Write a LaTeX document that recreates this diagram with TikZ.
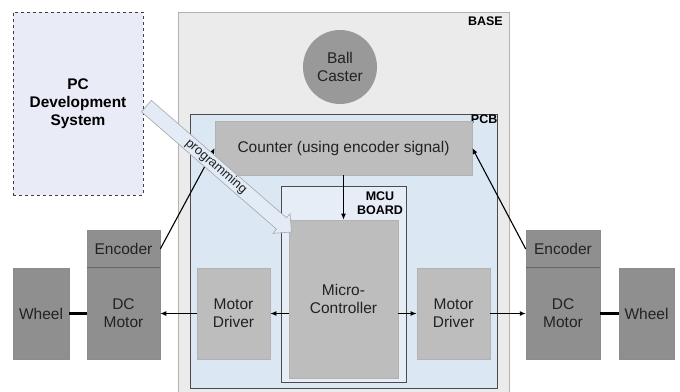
\documentclass[tikz,border=0pt]{standalone}
\usepackage{fontspec}
\setmainfont{Liberation Sans}
\usetikzlibrary{positioning,shapes.arrows,arrows.meta}
\definecolor{basegray}{HTML}{EBEBEB}
\definecolor{pcbblue}{HTML}{DCE7F4}
\definecolor{boardblue}{HTML}{E7EDF7}
\definecolor{pcblue}{HTML}{E9ECF6}
\definecolor{partgray}{HTML}{BDBDBD}
\definecolor{motorgray}{HTML}{8F8F8F}
\definecolor{textgray}{HTML}{222222}
\tikzset{every node/.style={font=\fontsize{15.5}{18}\selectfont, text=textgray, inner sep=0pt, align=center},
  block/.style={draw=black!30, fill=partgray, line width=0.6pt},
  motorbox/.style={draw=black!45, fill=motorgray, line width=0.5pt},
  frame/.style={draw=black!70, line width=0.8pt},
  tag/.style={font=\fontsize{12.5}{14}\selectfont\bfseries, text=black},
  wire/.style={black, line width=1.1pt, -{Latex[length=6pt,width=5pt]}},
  axle/.style={black, line width=2.4pt},
  prog/.style={single arrow, single arrow head extend=5.5pt, draw=black!35, fill=pcbblue!80,
    line width=0.6pt, inner sep=1.2pt, font=\fontsize{13}{14}\selectfont, sloped}}

\begin{document}
\begin{tikzpicture}[x=1pt,y=-1pt]
  \useasboundingbox (0,0) rectangle (680,391);

  \node[draw=black!75, dashed, fill=pcblue, line width=0.8pt, minimum width=130pt, minimum height=183pt] (pc) at (78,103.5) {};
  \node[font=\fontsize{15.4}{18}\selectfont\bfseries, text=black] (pctext) at (pc.center) {PC\\Development\\System};

  \node[draw=black!30, fill=basegray, line width=0.8pt, minimum width=331pt, minimum height=382pt] (base) at (343.5,203) {};
  \node[tag, anchor=north east] (basetag) at (503,17) {BASE};
  \node[circle, fill=black!40, minimum size=74pt] (ball) at (340,67) {Ball\\Caster};

  \node[frame, fill=pcbblue, minimum width=307pt, minimum height=274pt] (pcb) at (343.5,251) {};
  \node[tag, anchor=north east] (pcbtag) at (497.5,115) {PCB};
  \node[block, minimum width=257pt, minimum height=54pt] (counter) at (343.5,148) {Counter (using encoder signal)};

  \node[frame, fill=boardblue, minimum width=125pt, minimum height=196pt] (board) at (343.5,284) {};
  \node[tag] (boardtag) at (380,203) {MCU\\BOARD};
  \node[block, minimum width=109pt, minimum height=158pt] (mcu) at (343.5,299) {Micro-\\Controller};

  \node[block, minimum width=73pt, minimum height=91pt] (drvL) at (233.5,313.5) {Motor\\Driver};
  \node[block, minimum width=73pt, minimum height=91pt] (drvR) at (453.5,313.5) {Motor\\Driver};

  \node[motorbox, minimum width=73pt, minimum height=91pt] (motL) at (123.5,313.5) {DC\\Motor};
  \node[motorbox, minimum width=73pt, minimum height=37pt, above=0pt of motL] (encL) {Encoder};
  \node[motorbox, minimum width=56pt, minimum height=91pt] (wheelL) at (41,313.5) {Wheel};

  \node[motorbox, minimum width=74pt, minimum height=91pt] (motR) at (563,313.5) {DC\\Motor};
  \node[motorbox, minimum width=74pt, minimum height=37pt, above=0pt of motR] (encR) {Encoder};
  \node[motorbox, minimum width=55pt, minimum height=91pt] (wheelR) at (646.5,313.5) {Wheel};

  \draw[black!60, line width=0.8pt] (encL.south west) -- (encL.south east);
  \draw[black!60, line width=0.8pt] (encR.south west) -- (encR.south east);

  \draw[wire] (encL.east) -- (counter.west);
  \draw[wire] (encR.west) -- (counter.east);
  \draw[wire] (counter.south) -- (mcu.north);
  \draw[wire] (mcu.west |- drvL.east) -- (drvL.east);
  \draw[wire] (drvL.west) -- (motL.east);
  \draw[wire] (mcu.east |- drvR.west) -- (drvR.west);
  \draw[wire] (drvR.east) -- (motR.west);
  \draw[axle] (wheelL.east) -- (motL.west);
  \draw[axle] (motR.east) -- (wheelR.west);

  \path (pc.east) -- node[prog, minimum height=192pt] (progarrow) {programming} ([yshift=-10pt]mcu.north west);
\end{tikzpicture}
\end{document}
